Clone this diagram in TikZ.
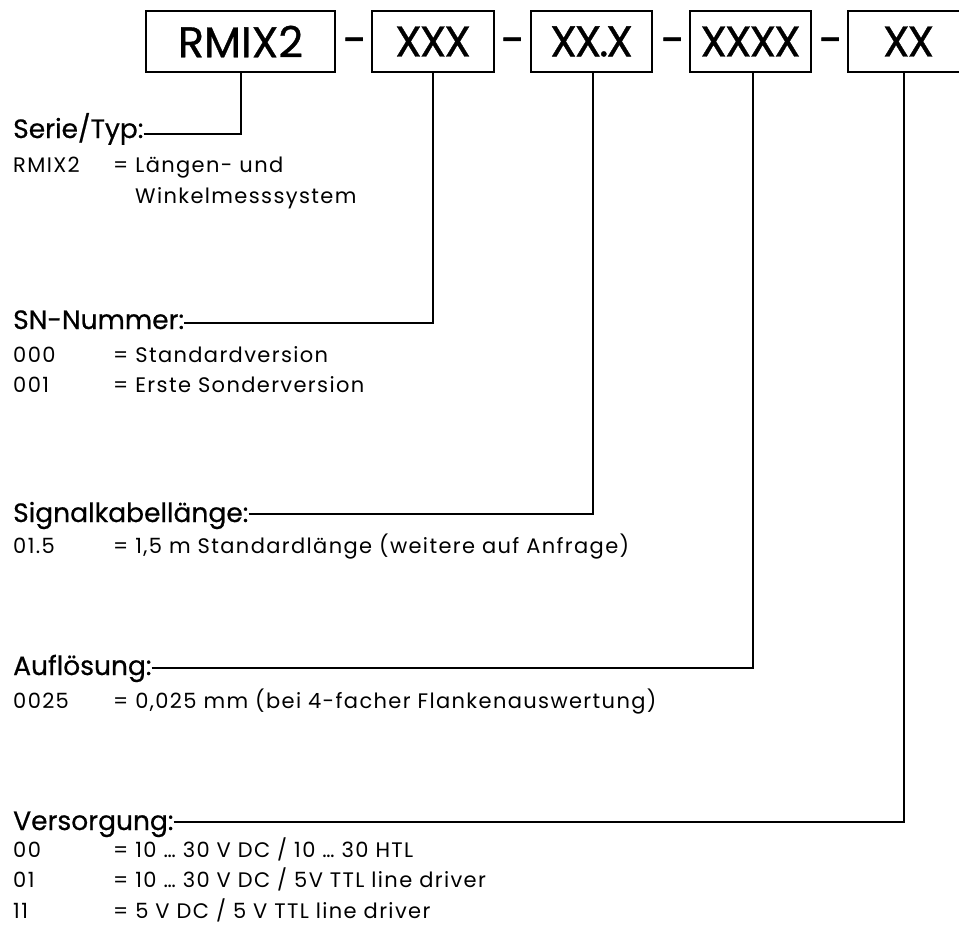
\documentclass[tikz,border=0pt]{standalone}
\usepackage{fontspec}
\setmainfont{Poppins}
\newfontfamily\bodyfont[LetterSpace=6.5]{Poppins}
\newfontfamily\headfont[FakeBold=0.6]{Poppins}
\newfontfamily\codefont[FakeBold=0.8]{Poppins}
\newfontfamily\codexfont[FakeBold=0.8,LetterSpace=-5]{Poppins}
\begin{document}
\begin{tikzpicture}[x=1pt,y=-1pt,
  codebox/.style={draw, line width=1.4pt, minimum height=61pt, inner sep=0pt,
    font=\codefont\fontsize{43}{43}\selectfont},
  xbox/.style={codebox, font=\codexfont\fontsize{43}{43}\selectfont},
  sep/.style={anchor=base, inner sep=0pt, font=\codefont\fontsize{43}{43}\selectfont},
  head/.style={anchor=base west, inner sep=0pt, font=\headfont\fontsize{26.5}{26.5}\selectfont},
  body/.style={anchor=base west, inner sep=0pt, font=\bodyfont\fontsize{21}{21}\selectfont},
  conn/.style={line width=1.3pt}]
\useasboundingbox (0,0) rectangle (959,934);
% top code boxes
\node[codebox, minimum width=189pt] (b1) at (240.5,41.5) {RMIX2};
\node[xbox, minimum width=122pt] (b2) at (433,41.5) {XXX};
\node[xbox, minimum width=121pt] (b3) at (591.5,41.5) {XX.X};
\node[xbox, minimum width=121pt] (b4) at (750.5,41.5) {XXXX};
\node[xbox, minimum width=121pt] (b5) at (908.5,41.5) {XX};
\node[sep] (d1) at (355,55) {-};
\node[sep] (d2) at (513,55) {-};
\node[sep] (d3) at (673,55) {-};
\node[sep] (d4) at (831,55) {-};
% connector x positions and heading line heights
\coordinate (v1) at (241,0);
\coordinate (v2) at (433,0);
\coordinate (v3) at (593,0);
\coordinate (v4) at (753,0);
\coordinate (v5) at (904,0);
% Serie/Typ
\node[head] (h1) at (13,138) {Serie/Typ:};
\coordinate (l1) at (0,134);
\node[body] (c1) at (13,172) {RMIX2};
\node[body] (e1) at (113,172) {= Längen- und};
\node[body] (e1b) at (135,203) {Winkelmesssystem};
% SN-Nummer
\node[head] (h2) at (13,329) {SN-Nummer:};
\coordinate (l2) at (0,323);
\node[body] (c2a) at (13,362) {000};
\node[body] (e2a) at (113,362) {= Standardversion};
\node[body] (c2b) at (13,392) {001};
\node[body] (e2b) at (113,392) {= Erste Sonderversion};
% Signalkabellaenge
\node[head] (h3) at (13,522) {Signalkabellänge:};
\coordinate (l3) at (0,514);
\node[body] (c3) at (13,553) {01.5};
\node[body] (e3) at (113,553) {= 1,5 m Standardlänge (weitere auf Anfrage)};
% Aufloesung
\node[head] (h4) at (13,675) {Auflösung:};
\coordinate (l4) at (0,668);
\node[body] (c4) at (13,708) {0025};
\node[body] (e4) at (113,708) {= 0,025 mm (bei 4-facher Flankenauswertung)};
% Versorgung
\node[head] (h5) at (13,830) {Versorgung:};
\coordinate (l5) at (0,822);
\node[body] (c5a) at (13,857) {00};
\node[body] (e5a) at (113,857) {= 10 … 30 V DC / 10 … 30 HTL};
\node[body] (c5b) at (13,887) {01};
\node[body] (e5b) at (113,887) {= 10 … 30 V DC / 5V TTL line driver};
\node[body] (c5c) at (13,918) {11};
\node[body] (e5c) at (113,918) {= 5 V DC / 5 V TTL line driver};
% connectors
\draw[conn] (h1.east |- l1) -| (v1 |- b1.south);
\draw[conn] (h2.east |- l2) -| (v2 |- b2.south);
\draw[conn] (h3.east |- l3) -| (v3 |- b3.south);
\draw[conn] (h4.east |- l4) -| (v4 |- b4.south);
\draw[conn] (h5.east |- l5) -| (v5 |- b5.south);
\end{tikzpicture}
\end{document}
